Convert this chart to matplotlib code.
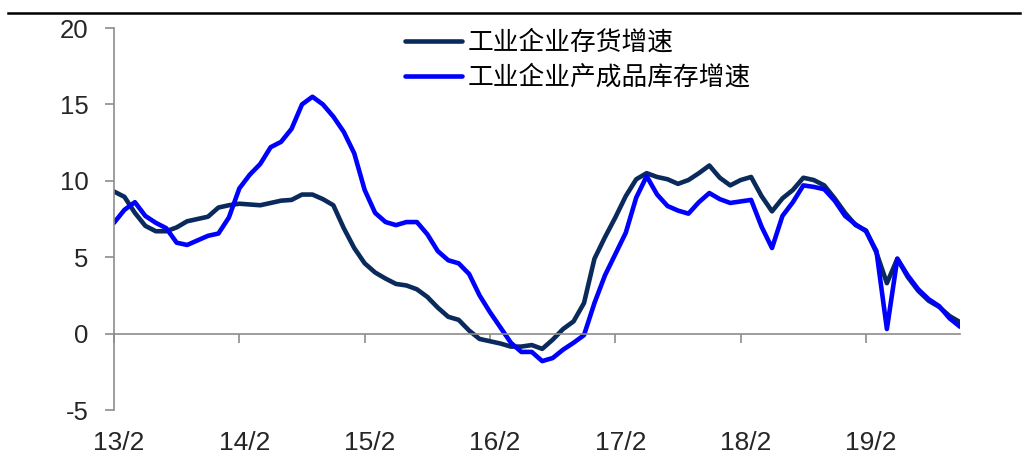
import numpy as np
import matplotlib
matplotlib.use('Agg')
import matplotlib.pyplot as plt
import matplotlib.transforms as mtransforms

plt.rcParams['font.family'] = ['Liberation Sans', 'Noto Sans CJK SC', 'DejaVu Sans']
plt.rcParams['axes.unicode_minus'] = False

# monthly series, 2013/02 .. 2019/11 (82 months)
inventory = [
    9.3, 8.95, 7.9, 7.05, 6.7, 6.7, 6.95, 7.35, 7.5, 7.65, 8.25, 8.4,
    8.5, 8.45, 8.4, 8.55, 8.7, 8.75, 9.1, 9.1, 8.8, 8.4, 6.9, 5.6,
    4.6, 4.0, 3.6, 3.25, 3.15, 2.9, 2.4, 1.7, 1.1, 0.9, 0.2, -0.35,
    -0.5, -0.65, -0.85, -0.85, -0.75, -1.0, -0.4, 0.3, 0.8, 2.0, 4.9, 6.3,
    7.6, 9.0, 10.1, 10.5, 10.25, 10.1, 9.8, 10.05, 10.5, 11.0, 10.2, 9.7,
    10.05, 10.25, 9.0, 8.0, 8.85, 9.4, 10.2, 10.05, 9.7, 8.85, 7.9, 7.1,
    6.75, 5.3, 3.3, 4.9, 3.7, 2.8, 2.15, 1.75, 1.15, 0.75,
]
finished_goods = [
    7.25, 8.1, 8.6, 7.7, 7.25, 6.9, 5.95, 5.8, 6.1, 6.4, 6.55, 7.6,
    9.5, 10.4, 11.1, 12.2, 12.55, 13.4, 15.0, 15.5, 15.0, 14.2, 13.2, 11.8,
    9.4, 7.9, 7.3, 7.1, 7.3, 7.3, 6.5, 5.4, 4.8, 4.6, 3.9, 2.5,
    1.4, 0.4, -0.6, -1.2, -1.2, -1.8, -1.6, -1.05, -0.6, -0.1, 2.0, 3.8,
    5.2, 6.6, 8.9, 10.3, 9.1, 8.35, 8.05, 7.85, 8.6, 9.2, 8.8, 8.55,
    8.65, 8.75, 7.0, 5.6, 7.7, 8.6, 9.7, 9.6, 9.45, 8.7, 7.7, 7.15,
    6.7, 5.4, 0.3, 4.9, 3.8, 2.9, 2.25, 1.8, 1.0, 0.45,
]
tick_labels = ['13/2', '14/2', '15/2', '16/2', '17/2', '18/2', '19/2']
names = ['工业企业存货增速', '工业企业产成品库存增速']

x = np.arange(len(inventory))
tick_pos = np.arange(len(tick_labels)) * 12

fig = plt.figure(figsize=(10.25, 4.59), dpi=100)
ax = fig.add_axes([114 / 1025, 49 / 459, 846 / 1025, 382 / 459])

ax.plot(x, inventory, color='#0b2a5c', lw=3.3, solid_joinstyle='round',
        solid_capstyle='round', label=names[0])
ax.plot(x, finished_goods, color='#0000ff', lw=3.3, solid_joinstyle='round',
        solid_capstyle='round', label=names[1])

ax.set_xlim(0, len(inventory) - 1)
ax.set_ylim(-5, 20)
ax.set_yticks([-5, 0, 5, 10, 15, 20])

axis_grey = '#8c8c8c'
for side in ['top', 'right']:
    ax.spines[side].set_visible(False)
ax.spines['left'].set_color(axis_grey)
ax.spines['left'].set_linewidth(1.2)
ax.spines['bottom'].set_position(('data', 0))
ax.spines['bottom'].set_color(axis_grey)
ax.spines['bottom'].set_linewidth(1.2)

ax.set_xticks(tick_pos)
ax.tick_params(axis='x', direction='out', length=6.5, width=1.2,
               color=axis_grey, labelbottom=False)
ax.tick_params(axis='y', direction='out', length=6.5, width=1.2,
               color=axis_grey, labelsize=18.5, labelcolor='#262626', pad=12)

# category labels sit below the plot area, not on the zero line
sec = ax.secondary_xaxis('bottom')
sec.set_xticks(tick_pos)
sec.set_xticklabels(tick_labels)
sec.tick_params(length=0, pad=15, labelsize=19, labelcolor='#262626')
sec.spines['bottom'].set_visible(False)
shift = mtransforms.ScaledTranslation(5 / 100, 0, fig.dpi_scale_trans)
for lab in sec.get_xticklabels():
    lab.set_transform(lab.get_transform() + shift)

leg = ax.legend(loc='upper left', bbox_to_anchor=(405 / 1025, (459 - 30) / 459),
                bbox_transform=fig.transFigure, frameon=False, borderpad=0,
                borderaxespad=0, handlelength=2.2, handletextpad=0.25,
                labelspacing=0.35, prop={'family': ['Noto Sans CJK SC'], 'size': 18.5})

# rule across the top of the figure
fig.add_artist(plt.Line2D([8 / 1025, 1020 / 1025], [1 - 13 / 459, 1 - 13 / 459],
                          transform=fig.transFigure, color='black', lw=1.8))

fig.savefig('out.png', dpi=100)
